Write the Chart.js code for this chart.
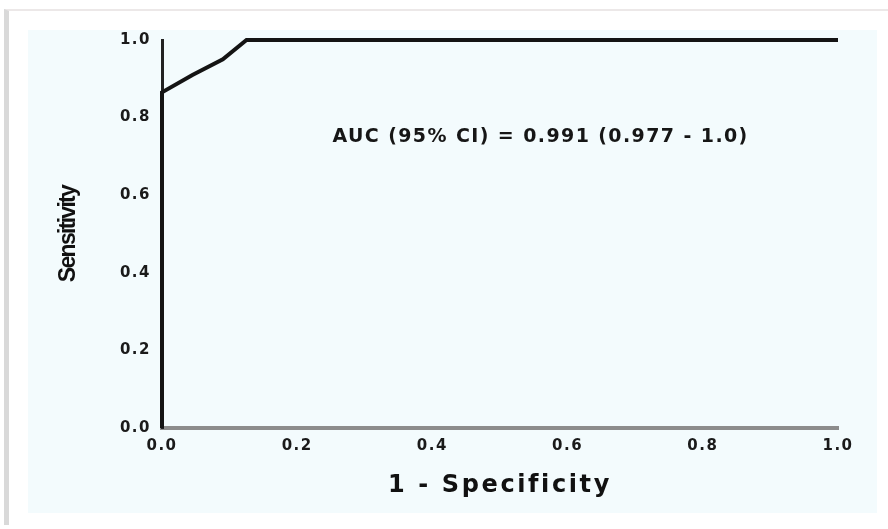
<!DOCTYPE html>
<html>
<head>
<meta charset="utf-8">
<script src="https://cdn.jsdelivr.net/npm/chart.js@4.4.1/dist/chart.umd.min.js"></script>
<style>
  html, body { margin: 0; padding: 0; background: #ffffff; }
  #frame {
    position: absolute; left: 4px; top: 9px; width: 880px; height: 514px;
    border-left: 5px solid #d9d9d9; border-top: 2px solid #ece8e8;
  }
  #panel {
    position: absolute; left: 28px; top: 30px; width: 849px; height: 483px;
    background: #f3fbfd;
  }
  #wrap { position: absolute; left: 0; top: 0; width: 888px; height: 529px; }
</style>
</head>
<body>
<div id="frame"></div>
<div id="panel"></div>
<div id="wrap"><canvas id="roc"></canvas></div>
<script>
// ROC curve points (1 - specificity, sensitivity)
const fpr = [0.0, 0.0, 0.045, 0.09, 0.125, 1.0];
const tpr = [0.0, 0.865, 0.91, 0.95, 1.0, 1.0];

const tickValues = [0.0, 0.2, 0.4, 0.6, 0.8, 1.0];
const xTitle = '1 - Specificity';
const yTitle = 'Sensitivity';
const aucText = 'AUC (95% CI) = 0.991 (0.977 - 1.0)';
const aucAt = [0.56, 0.75]; // data coords of the annotation centre

const tickFont = { family: "'DejaVu Sans', sans-serif", weight: 'bold', size: 15 };

// the original lettering is wide, canvas letterSpacing gets close to it
function spacedTitle(scale, spacing) {
  if (scale._spaced) return;
  const orig = scale.drawTitle.bind(scale);
  scale.drawTitle = function () {
    const c = scale.ctx;
    const prev = c.letterSpacing;
    c.letterSpacing = spacing;
    orig();
    c.letterSpacing = prev;
  };
  scale._spaced = true;
}

const rocExtras = {
  id: 'rocExtras',
  beforeDraw(chart) {
    chart.ctx.letterSpacing = '1.5px'; // tick labels
  },
  afterDraw(chart) {
    const { ctx, scales } = chart;
    ctx.save();
    ctx.letterSpacing = '1.4px';
    ctx.font = "bold 19px 'DejaVu Sans', sans-serif";
    ctx.fillStyle = '#161616';
    ctx.textAlign = 'center';
    ctx.textBaseline = 'middle';
    ctx.fillText(aucText, scales.x.getPixelForValue(aucAt[0]), scales.y.getPixelForValue(aucAt[1]));
    ctx.restore();
    ctx.letterSpacing = '0px';
  }
};

new Chart(document.getElementById('roc'), {
  type: 'scatter',
  data: {
    datasets: [{
      data: fpr.map((x, i) => ({ x, y: tpr[i] })),
      showLine: true,
      borderColor: '#141414',
      borderWidth: 4,
      pointRadius: 0,
      tension: 0,
      clip: false,
    }],
  },
  options: {
    responsive: true,
    maintainAspectRatio: false,
    animation: false,
    layout: { padding: { left: 0, top: 40, right: 50, bottom: 0 } },
    plugins: { legend: { display: false }, tooltip: { enabled: false } },
    scales: {
      x: {
        type: 'linear',
        min: 0, max: 1,
        afterBuildTicks: (s) => { s.ticks = tickValues.map(v => ({ value: v })); },
        afterFit: (s) => { s.height = 101; s.paddingLeft = 0; s.paddingRight = 0; },
        afterUpdate: (s) => spacedTitle(s, '2.6px'),
        grid: { display: false, drawTicks: false },
        border: { display: true, color: '#8c8c8c', width: 4 },
        ticks: {
          color: '#1a1a1a', font: tickFont, padding: 9, maxRotation: 0,
          callback: (v) => v.toFixed(1),
        },
        title: {
          display: true, text: xTitle, color: '#111',
          font: { family: "'DejaVu Sans', sans-serif", weight: 'bold', size: 24 },
          padding: { top: 0, bottom: 29 },
        },
      },
      y: {
        type: 'linear',
        min: 0, max: 1,
        afterBuildTicks: (s) => { s.ticks = tickValues.map(v => ({ value: v })); },
        afterFit: (s) => { s.width = 162; s.paddingTop = 0; s.paddingBottom = 0; },
        afterUpdate: (s) => spacedTitle(s, '-1.7px'),
        grid: { display: false, drawTicks: false },
        border: { display: true, color: '#222', width: 3 },
        ticks: {
          color: '#1a1a1a', font: tickFont, padding: 11,
          callback: (v) => v.toFixed(1),
        },
        title: {
          display: true, text: yTitle, color: '#111',
          font: { family: "'Liberation Sans Narrow', 'Liberation Sans', sans-serif", weight: 'bold', size: 23 },
          padding: { top: 55, bottom: 0 },
        },
      },
    },
  },
  plugins: [rocExtras],
});
</script>
</body>
</html>
